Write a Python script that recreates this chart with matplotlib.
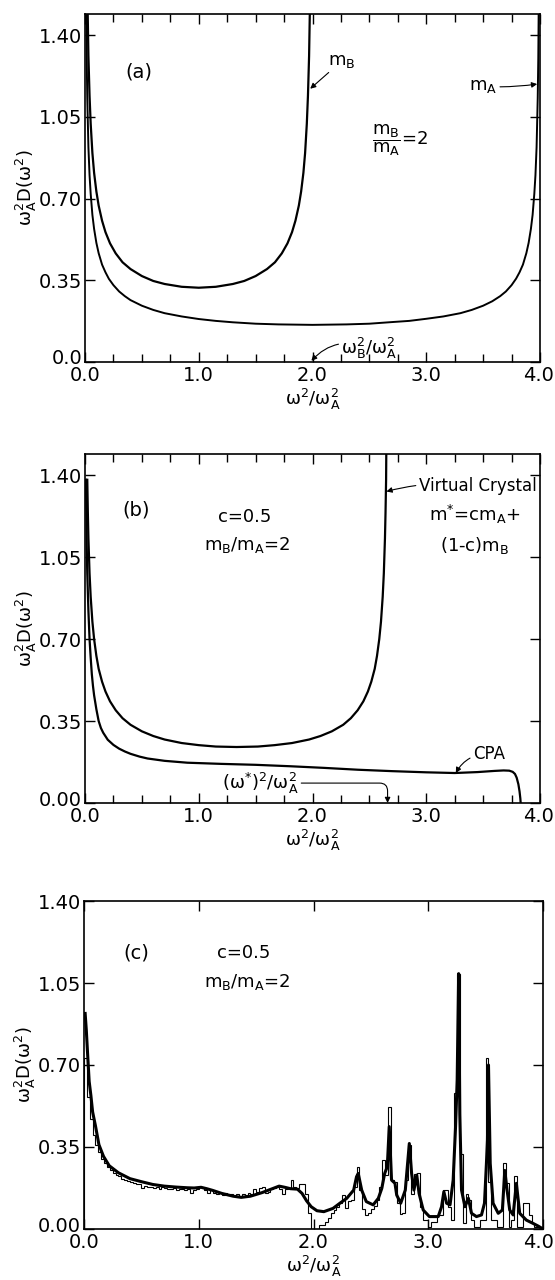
import numpy as np
import matplotlib
matplotlib.use("Agg")
import matplotlib.pyplot as plt
import matplotlib.transforms as mtransforms
from matplotlib.ticker import MultipleLocator

plt.rcParams['font.family'] = ['DejaVu Sans']
plt.rcParams['mathtext.default'] = 'regular'

# ---------------- data ----------------
# panel (a): perfect chains of B atoms and of A atoms
xa_B = [0.004, 0.008, 0.012, 0.02, 0.03, 0.04, 0.05, 0.065, 0.08, 0.10, 0.12, 0.15, 0.18, 0.22, 0.27,
        0.33, 0.40, 0.50, 0.60, 0.70, 0.85, 1.0, 1.15, 1.3, 1.4, 1.5, 1.6, 1.67, 1.73, 1.78, 1.82,
        1.85, 1.88, 1.90, 1.92, 1.935, 1.95, 1.96, 1.97, 1.98, 1.988, 1.992, 1.996]
ya_B = [3.6, 2.52, 2.06, 1.6, 1.31, 1.14, 1.02, 0.895, 0.81, 0.73, 0.67, 0.605, 0.556, 0.508, 0.465,
        0.427, 0.398, 0.368, 0.347, 0.334, 0.322, 0.318, 0.322, 0.334, 0.347, 0.368, 0.398, 0.427, 0.465, 0.508, 0.556,
        0.605, 0.67, 0.73, 0.81, 0.895, 1.02, 1.14, 1.31, 1.6, 2.06, 2.52, 3.6]
xa_A = [0.003, 0.006, 0.01, 0.015, 0.02, 0.03, 0.04, 0.05, 0.065, 0.08, 0.10, 0.12, 0.15, 0.18, 0.21,
        0.25, 0.30, 0.35, 0.40, 0.50, 0.60, 0.70, 0.85, 1.0, 1.15, 1.3, 1.5, 1.7, 1.85, 2.0, 2.15,
        2.3, 2.5, 2.7, 2.85, 3.0, 3.15, 3.3, 3.4, 3.5, 3.58, 3.65, 3.7, 3.75, 3.79, 3.82, 3.85,
        3.88, 3.90, 3.92, 3.935, 3.95, 3.96, 3.97, 3.98, 3.985, 3.99, 3.995]
ya_A = [2.9, 2.05, 1.6, 1.3, 1.13, 0.92, 0.80, 0.72, 0.63, 0.57, 0.51, 0.466, 0.417, 0.384, 0.356,
        0.329, 0.302, 0.282, 0.265, 0.241, 0.223, 0.209, 0.195, 0.184, 0.176, 0.170, 0.164, 0.161, 0.160, 0.159, 0.160,
        0.161, 0.164, 0.171, 0.176, 0.185, 0.195, 0.209, 0.223, 0.241, 0.26, 0.282, 0.302, 0.329, 0.357, 0.384, 0.417,
        0.466, 0.51, 0.57, 0.63, 0.72, 0.80, 0.92, 1.13, 1.3, 1.6, 2.25]

# panel (b): virtual crystal and CPA
xb_vc = [0.02, 0.025, 0.03, 0.04, 0.05, 0.065, 0.08, 0.10, 0.12, 0.15, 0.18, 0.22, 0.27, 0.33, 0.40,
         0.5, 0.6, 0.7, 0.85, 1.0, 1.15, 1.333, 1.52, 1.667, 1.82, 1.97, 2.07, 2.17, 2.27, 2.337,
         2.397, 2.447, 2.487, 2.517, 2.547, 2.567, 2.587, 2.602, 2.617, 2.627, 2.637, 2.642, 2.647, 2.655, 2.66]
yb_vc = [1.38, 1.24, 1.13, 0.98, 0.88, 0.774, 0.70, 0.628, 0.573, 0.518, 0.476, 0.434, 0.396, 0.362, 0.334,
         0.306, 0.286, 0.271, 0.256, 0.247, 0.241, 0.239, 0.241, 0.247, 0.256, 0.271, 0.286, 0.306, 0.334, 0.362,
         0.396, 0.434, 0.476, 0.518, 0.573, 0.628, 0.70, 0.774, 0.88, 0.98, 1.13, 1.24, 1.38, 1.9, 2.5]
xb_cpa = [0.008, 0.012, 0.015, 0.02, 0.025, 0.03, 0.04, 0.05, 0.06, 0.07, 0.08, 0.10, 0.12, 0.14, 0.16,
          0.2, 0.25, 0.3, 0.35, 0.4, 0.48, 0.55, 0.7, 0.9, 1.2, 1.5, 1.8, 2.1, 2.4, 2.7, 3.0, 3.25,
          3.45, 3.6, 3.68, 3.73, 3.76, 3.78, 3.795, 3.81, 3.82, 3.827, 3.83]
yb_cpa = [1.38, 1.25, 1.10, 0.98, 0.90, 0.82, 0.70, 0.62, 0.55, 0.50, 0.46, 0.40, 0.35, 0.32, 0.30,
          0.27, 0.248, 0.232, 0.22, 0.21, 0.198, 0.19, 0.18, 0.172, 0.167, 0.163, 0.157, 0.150, 0.142, 0.136, 0.131, 0.128,
          0.132, 0.137, 0.139, 0.138, 0.133, 0.124, 0.108, 0.08, 0.05, 0.02, 0.0]

# panel (c): CPA curve and histogram (bin width 0.025)
xc_cpa = [0.01, 0.02, 0.03, 0.045, 0.06, 0.075, 0.10, 0.13, 0.17, 0.22, 0.30, 0.40, 0.50, 0.60, 0.70,
          0.80, 0.90, 0.96, 1.02, 1.07, 1.12, 1.20, 1.30, 1.37, 1.45, 1.55, 1.62, 1.70, 1.75, 1.80,
          1.86, 1.90, 1.94, 1.98, 2.03, 2.09, 2.17, 2.23, 2.29, 2.35, 2.375, 2.39, 2.42, 2.46, 2.52,
          2.565, 2.595, 2.62, 2.643, 2.66, 2.68, 2.71, 2.725, 2.76, 2.80, 2.82, 2.835, 2.855, 2.875, 2.90,
          2.92, 2.956, 3.01, 3.087, 3.116, 3.136, 3.16, 3.19, 3.217, 3.238, 3.252, 3.265, 3.275, 3.29, 3.32,
          3.35, 3.377, 3.42, 3.464, 3.49, 3.507, 3.516, 3.525, 3.54, 3.565, 3.61, 3.646, 3.667, 3.687, 3.71,
          3.74, 3.768, 3.797, 3.855, 3.913, 3.96, 3.99]
yc_cpa = [0.92, 0.85, 0.76, 0.63, 0.57, 0.50, 0.44, 0.36, 0.31, 0.27, 0.24, 0.215, 0.202, 0.19, 0.183,
          0.179, 0.176, 0.175, 0.178, 0.172, 0.165, 0.152, 0.14, 0.135, 0.14, 0.155, 0.168, 0.183, 0.178, 0.172,
          0.17, 0.152, 0.12, 0.095, 0.078, 0.074, 0.088, 0.11, 0.131, 0.166, 0.223, 0.237, 0.166, 0.117, 0.103,
          0.131, 0.173, 0.237, 0.266, 0.437, 0.209, 0.195, 0.145, 0.11, 0.166, 0.28, 0.365, 0.237, 0.166, 0.23,
          0.152, 0.081, 0.053, 0.053, 0.095, 0.159, 0.11, 0.103, 0.209, 0.437, 0.636, 1.09, 0.49, 0.166, 0.095,
          0.131, 0.067, 0.053, 0.06, 0.11, 0.28, 0.38, 0.70, 0.28, 0.11, 0.067, 0.081, 0.25, 0.166, 0.081,
          0.06, 0.195, 0.067, 0.038, 0.024, 0.012, 0.003]
hist_c = [0.73, 0.565, 0.47, 0.40, 0.36, 0.33, 0.30, 0.28, 0.265, 0.25,
          0.24, 0.23, 0.225, 0.215, 0.21, 0.205, 0.20, 0.195, 0.19, 0.19,
          0.175, 0.185, 0.18, 0.18, 0.175, 0.18, 0.17, 0.18, 0.175, 0.17,
          0.17, 0.175, 0.165, 0.17, 0.17, 0.165, 0.17, 0.155, 0.165, 0.17,
          0.18, 0.175, 0.165, 0.155, 0.165, 0.155, 0.15, 0.155, 0.145, 0.155,
          0.145, 0.15, 0.14, 0.15, 0.14, 0.15, 0.145, 0.155, 0.15, 0.17,
          0.16, 0.175, 0.18, 0.155, 0.16, 0.17, 0.175, 0.18, 0.17, 0.15,
          0.17, 0.175, 0.21, 0.18, 0.175, 0.19, 0.19, 0.15, 0.07, 0.0,
          0.0, 0.0, 0.015, 0.015, 0.03, 0.046, 0.067, 0.08, 0.095, 0.11,
          0.145, 0.09, 0.12, 0.125, 0.18, 0.265, 0.165, 0.085, 0.06, 0.07,
          0.085, 0.10, 0.125, 0.18, 0.295, 0.23, 0.52, 0.21, 0.20, 0.11,
          0.065, 0.07, 0.21, 0.36, 0.15, 0.235, 0.24, 0.095, 0.04, 0.04,
          0.01, 0.03, 0.03, 0.06, 0.06, 0.165, 0.165, 0.095, 0.04, 0.58,
          1.09, 0.32, 0.025, 0.15, 0.125, 0.04, 0.01, 0.01, 0.04, 0.04,
          0.73, 0.20, 0.04, 0.04, 0.01, 0.01, 0.28, 0.195, 0.01, 0.04,
          0.225, 0.01, 0.01, 0.11, 0.11, 0.06, 0.025, 0.01, 0.01, 0.01]
bin_width = 0.025

yticks = [0.0, 0.35, 0.70, 1.05, 1.40]
xticks = [0.0, 1.0, 2.0, 3.0, 4.0]
xticklabels = ['0.0', '1.0', '2.0', '3.0', '4.0']
yticklabels_a = ['0.0', '0.35', '0.70', '1.05', '1.40']
yticklabels_bc = ['0.00', '0.35', '0.70', '1.05', '1.40']

# ---------------- figure ----------------
W, H = 555, 1280
fig = plt.figure(figsize=(W / 100, H / 100), dpi=100)

def px_axes(l, r, t, b):
    return fig.add_axes([l / W, 1 - b / H, (r - l) / W, (b - t) / H])

ax_a = px_axes(85, 540, 14, 362)
ax_b = px_axes(85, 540, 454, 803)
ax_c = px_axes(84, 543, 901, 1229)

TICKFS = 14
LABFS = 13

def shift(label, dx_px, dy_px):
    label.set_transform(label.get_transform() +
                        mtransforms.ScaledTranslation(dx_px / 100, dy_px / 100, fig.dpi_scale_trans))

def style(ax, ytop, ylabels, minor_x, last_dx):
    ax.set_xlim(0, 4.0)
    ax.set_ylim(0, ytop)
    ax.set_xticks(xticks)
    ax.set_xticklabels(xticklabels, fontsize=TICKFS)
    ax.set_yticks(yticks)
    ax.set_yticklabels(ylabels, fontsize=TICKFS)
    if minor_x:
        ax.xaxis.set_minor_locator(MultipleLocator(0.25))
    ax.tick_params(which='both', direction='in', top=True, right=True, width=1.0, colors='black')
    ax.tick_params(which='major', length=7, pad=3)
    ax.tick_params(which='minor', length=6)
    ax.tick_params(axis='y', pad=2)
    for s in ax.spines.values():
        s.set_linewidth(1.2)
    ax.set_xlabel(r'$\omega^2/\omega_A^2$', fontsize=LABFS, labelpad=1)
    ax.set_ylabel(r'$\omega_A^2D(\omega^2)$', fontsize=LABFS, labelpad=0)
    # lift the lowest y tick label a little so it clears the x "0.0"
    shift(ax.get_yticklabels()[0], 0, 5)
    # keep the last x tick label inside the figure
    shift(ax.get_xticklabels()[-1], last_dx, 0)

arrow_kw = dict(arrowstyle='-|>', lw=0.8, color='black', mutation_scale=8, shrinkA=0, shrinkB=0)

# ---- (a)
style(ax_a, 1.49, yticklabels_a, True, -2)
ax_a.plot(xa_B, ya_B, color='black', lw=1.6)
ax_a.plot(xa_A, ya_A, color='black', lw=1.4)
ax_a.text(0.47, 1.24, '(a)', fontsize=14, ha='center', va='center')
ax_a.annotate('$m_B$', xy=(1.98, 1.17), xytext=(2.26, 1.29), fontsize=13, ha='center', va='center',
              arrowprops=dict(**arrow_kw))
ax_a.annotate('$m_A$', xy=(3.975, 1.19), xytext=(3.5, 1.18), fontsize=13, ha='center', va='center',
              arrowprops=dict(**arrow_kw, connectionstyle='arc3,rad=0.05'))
ax_a.text(2.52, 0.95, r'$\dfrac{m_B}{m_A}$=2', fontsize=13, ha='left', va='center')
ax_a.annotate(r'$\omega_B^2/\omega_A^2$', xy=(1.99, 0.005), xytext=(2.50, 0.06), fontsize=13,
              ha='center', va='center',
              arrowprops=dict(**arrow_kw, connectionstyle='arc3,rad=0.35'))

# ---- (b)
style(ax_b, 1.49, yticklabels_bc, True, -2)
ax_b.plot(xb_vc, yb_vc, color='black', lw=1.6)
ax_b.plot(xb_cpa, yb_cpa, color='black', lw=1.6)
ax_b.text(0.45, 1.25, '(b)', fontsize=14, ha='center', va='center')
ax_b.text(1.40, 1.22, 'c=0.5', fontsize=13, ha='center', va='center')
ax_b.text(1.43, 1.10, '$m_B/m_A$=2', fontsize=13, ha='center', va='center')
ax_b.annotate('Virtual Crystal', xy=(2.65, 1.33), xytext=(3.45, 1.355), fontsize=12, ha='center', va='center',
              arrowprops=dict(**arrow_kw, connectionstyle='arc3,rad=0.1'))
ax_b.text(3.43, 1.23, '$m^{*}$=c$m_A$+', fontsize=13, ha='center', va='center')
ax_b.text(3.43, 1.10, '(1-c)$m_B$', fontsize=13, ha='center', va='center')
ax_b.annotate('CPA', xy=(3.26, 0.128), xytext=(3.55, 0.21), fontsize=12, ha='center', va='center',
              arrowprops=dict(**arrow_kw, connectionstyle='arc3,rad=0.3'))
ax_b.annotate(r'$(\omega^{*})^2/\omega_A^2$', xy=(2.66, 0.0), xytext=(1.54, 0.085), fontsize=13,
              ha='center', va='center',
              arrowprops=dict(**arrow_kw, connectionstyle='angle,angleA=0,angleB=90,rad=8'))

# ---- (c)
style(ax_c, 1.40, yticklabels_bc, False, -5)
edges = np.arange(len(hist_c) + 1) * bin_width
ax_c.stairs(hist_c, edges, color='black', lw=0.8)
ax_c.plot(xc_cpa, yc_cpa, color='black', lw=2.2)
ax_c.text(0.455, 1.177, '(c)', fontsize=14, ha='center', va='center')
ax_c.text(1.39, 1.18, 'c=0.5', fontsize=13, ha='center', va='center')
ax_c.text(1.42, 1.056, '$m_B/m_A$=2', fontsize=13, ha='center', va='center')

fig.savefig('out.png', dpi=100)
